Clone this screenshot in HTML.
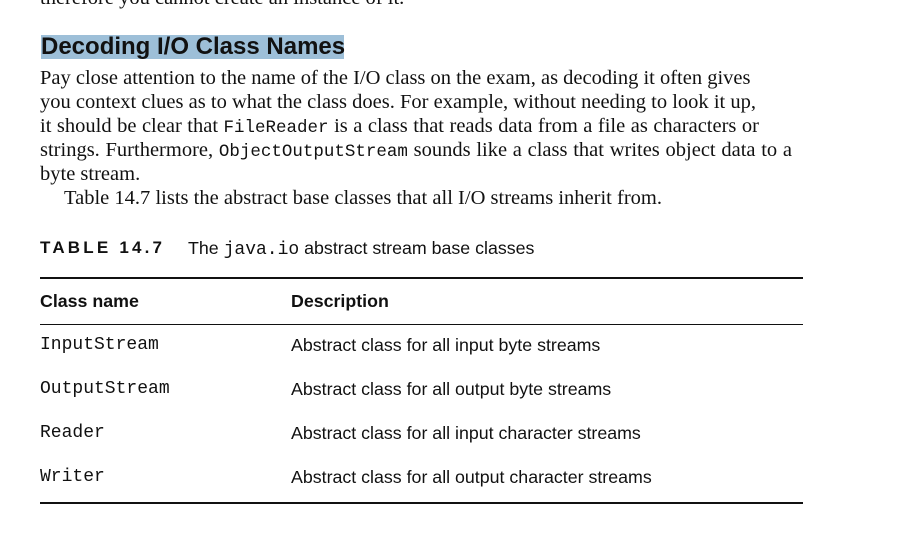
<!DOCTYPE html>
<html><head><meta charset="utf-8"><style>
body{margin:0;width:923px;height:540px;background:#fff;position:relative;overflow:hidden;color:#111}
.s{position:absolute;font-family:"Liberation Serif",serif;font-size:20.5px;white-space:nowrap;line-height:24px}
.j{text-align:justify;text-align-last:justify}
code{font-family:"Liberation Mono",monospace;font-size:17.5px}
.a{position:absolute;font-family:"Liberation Sans",sans-serif;font-size:17.8px;white-space:nowrap;line-height:20px}
.m{position:absolute;white-space:nowrap;line-height:20px;font-family:"Liberation Mono",monospace;font-size:18px}
.r{position:absolute;left:40px;width:763px;background:#111}
</style></head><body>
<div class="s" style="left:40px;top:-14px">therefore you cannot create an instance of it.</div>
<div style="position:absolute;left:41px;top:35px;width:303px;height:24px;background:#9dbfd8"></div>
<div class="a" style="left:41px;top:35px;font-size:24px;font-weight:bold;line-height:24px">Decoding I/O Class Names</div>
<div class="s j" style="left:40px;top:66px;width:708px">Pay close attention to the name of the I/O class on the exam, as decoding it often gives</div>
<div class="s j" style="left:40px;top:90px;width:716px">you context clues as to what the class does. For example, without needing to look it up,</div>
<div class="s j" style="left:40px;top:114px;width:719px">it should be clear that <code>FileReader</code> is a class that reads data from a file as characters or</div>
<div class="s j" style="left:40px;top:138px;width:752px">strings. Furthermore, <code>ObjectOutputStream</code> sounds like a class that writes object data to a</div>
<div class="s" style="left:40px;top:162px">byte stream.</div>
<div class="s j" style="left:64px;top:186px;width:598px">Table 14.7 lists the abstract base classes that all I/O streams inherit from.</div>
<div class="a" style="left:40px;top:238px;font-weight:bold;letter-spacing:3.2px;font-size:17px">TABLE 14.7</div>
<div class="a" style="left:188px;top:238px">The <span style="font-family:'Liberation Mono',monospace;font-size:18px">java.io</span> abstract stream base classes</div>
<div class="r" style="top:277px;height:2px"></div>
<div class="a" style="left:40px;top:291px;font-weight:bold">Class name</div>
<div class="a" style="left:291px;top:291px;font-weight:bold">Description</div>
<div class="r" style="top:324px;height:1px"></div>
<div class="m" style="left:40px;top:335px">InputStream</div>
<div class="a" style="left:291px;top:335px">Abstract class for all input byte streams</div>
<div class="m" style="left:40px;top:379px">OutputStream</div>
<div class="a" style="left:291px;top:379px">Abstract class for all output byte streams</div>
<div class="m" style="left:40px;top:423px">Reader</div>
<div class="a" style="left:291px;top:423px">Abstract class for all input character streams</div>
<div class="m" style="left:40px;top:467px">Writer</div>
<div class="a" style="left:291px;top:467px">Abstract class for all output character streams</div>
<div class="r" style="top:502px;height:2px"></div>
</body></html>
